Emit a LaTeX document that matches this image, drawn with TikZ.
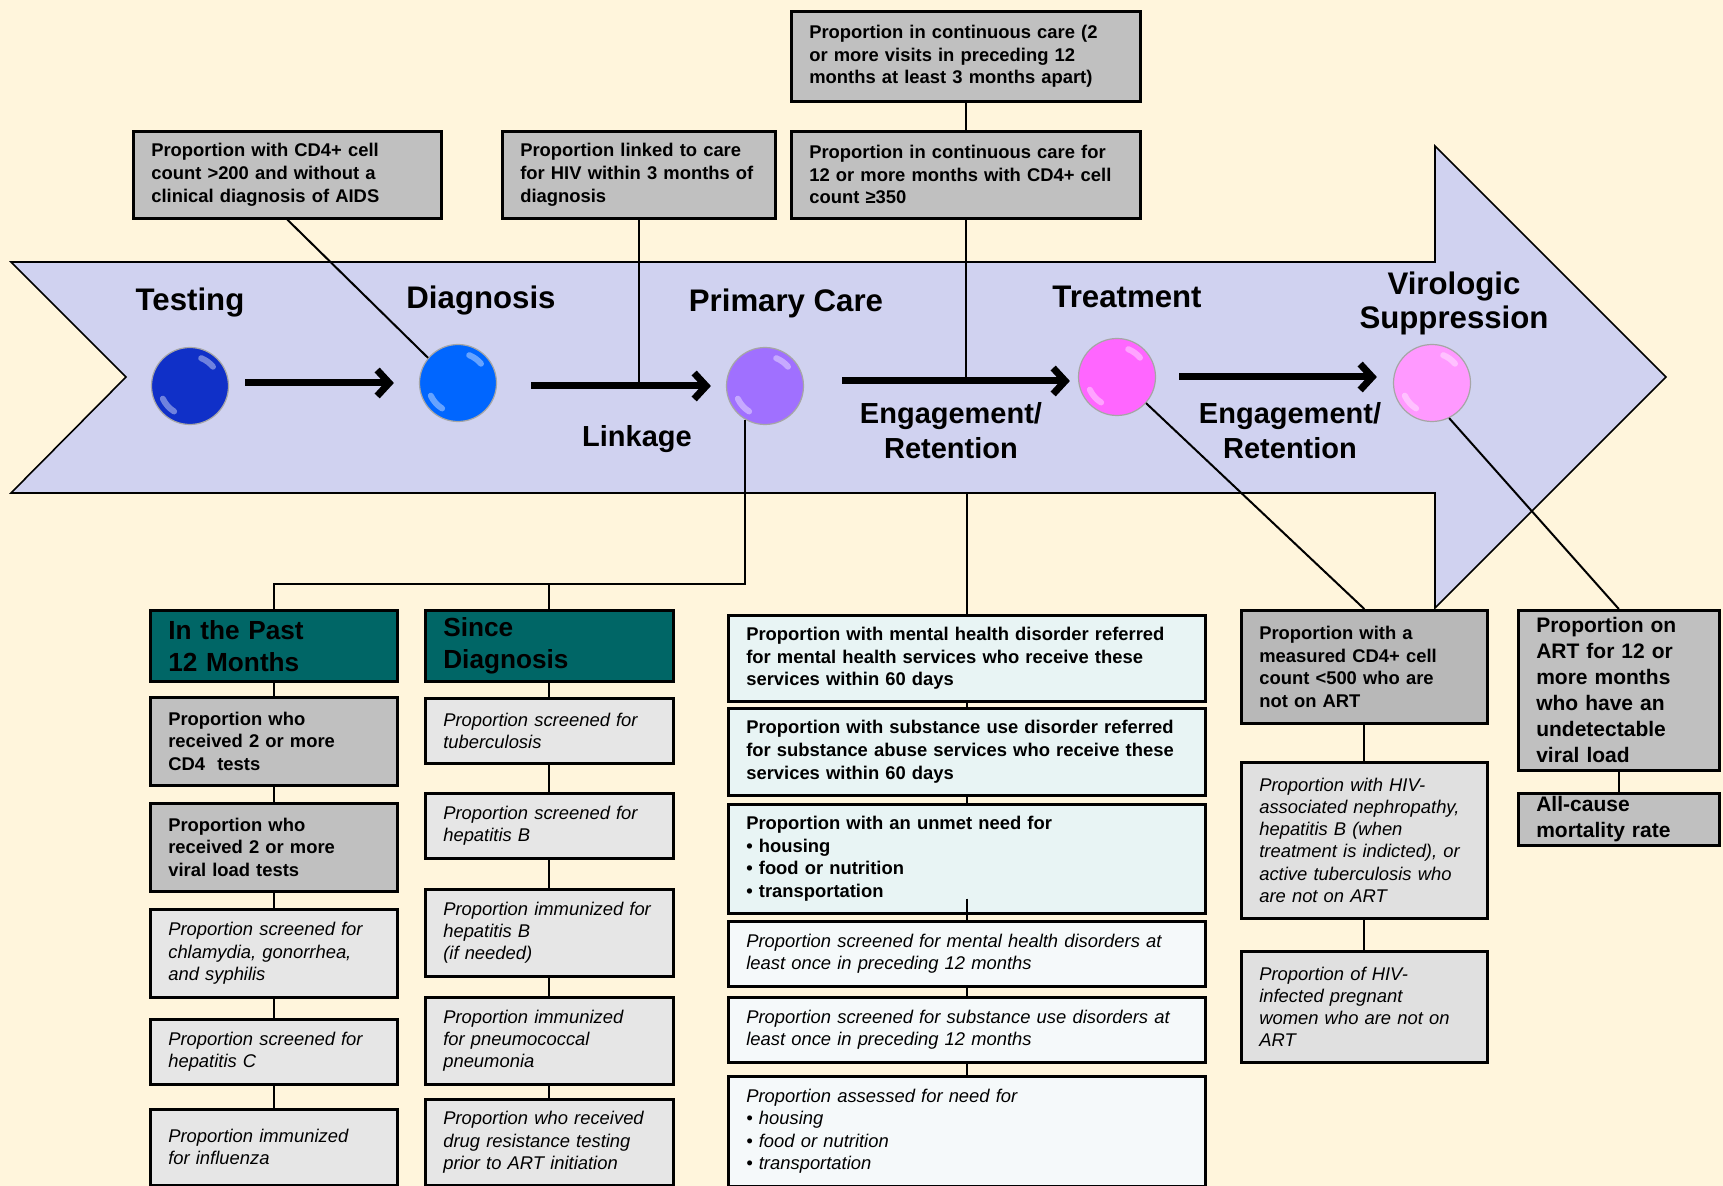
\documentclass[tikz,border=0pt]{standalone}
\usepackage{fontspec}
\setmainfont{Liberation Sans}
\usepackage{tikz}
\usetikzlibrary{arrows.meta}

\definecolor{bgcream}{HTML}{FFF5DC}
\definecolor{arrowfill}{HTML}{D0D2F0}
\definecolor{cgray}{HTML}{C0C0C0}
\definecolor{cgraydk}{HTML}{B8B8B8}
\definecolor{clight}{HTML}{E6E6E6}
\definecolor{clightb}{HTML}{E0E0E0}
\definecolor{hdrteal}{HTML}{006666}
\definecolor{mint}{HTML}{E8F4F4}
\definecolor{palecyan}{HTML}{F5F9FA}
\definecolor{ballA}{HTML}{1030C8}
\definecolor{ballB}{HTML}{0066FF}
\definecolor{ballC}{HTML}{A070FF}
\definecolor{ballD}{HTML}{FF66FF}
\definecolor{ballE}{HTML}{FF99FF}

\begin{document}
\begin{tikzpicture}[x=0.5pt, y=-0.5pt,
  cbox/.style={draw, line width=1.3pt, anchor=north west, align=left, inner xsep=9pt, inner ysep=1pt},
  gbox/.style={cbox, fill=cgray, font=\bfseries\fontsize{9.2}{11.3}\selectfont},
  ibox/.style={cbox, fill=clight, font=\itshape\fontsize{9.2}{11.1}\selectfont},
  hdr/.style={cbox, fill=hdrteal, font=\bfseries\fontsize{13.1}{16}\selectfont},
  mbox/.style={cbox, fill=mint, font=\bfseries\fontsize{9.2}{11.3}\selectfont},
  mibox/.style={cbox, fill=palecyan, font=\itshape\fontsize{9.2}{11.3}\selectfont},
  ball/.style={circle, draw=gray!70, line width=0.6pt, minimum size=38.5pt, inner sep=0pt},
  stage/.style={font=\bfseries\fontsize{15.6}{17}\selectfont, align=center},
  phase/.style={font=\bfseries\fontsize{14.5}{17.5}\selectfont, align=center},
  link/.style={line width=1pt},
  flow/.style={line width=3.5pt, -{Straight Barb[length=6pt, width=13pt]}},
  gloss/.style={white, opacity=0.4, line width=3pt, line cap=round}]
  \useasboundingbox (0,0) rectangle (1723,1186);
  \fill[bgcream] (0,0) rectangle (1723,1186);

  % the care continuum arrow
  \draw[fill=arrowfill, line width=0.8pt] (11,262) -- (1435,262) -- (1435,146) -- (1666,377)
    -- (1435,608) -- (1435,493) -- (11,493) -- (126,377) -- cycle;

  \node[ball, fill=ballA] (bTest) at (190,386) {};
  \node[ball, fill=ballB] (bDiag) at (458,383) {};
  \node[ball, fill=ballC] (bPrim) at (765,386) {};
  \node[ball, fill=ballD] (bTreat) at (1117,377) {};
  \node[ball, fill=ballE] (bViro) at (1432,383) {};
  \draw[gloss] (bTest.center) ++(40:15pt) arc[start angle=40, end angle=68, radius=15pt];
  \draw[gloss] (bTest.center) ++(205:15pt) arc[start angle=205, end angle=238, radius=15pt];
  \draw[gloss] (bDiag.center) ++(40:15pt) arc[start angle=40, end angle=68, radius=15pt];
  \draw[gloss] (bDiag.center) ++(205:15pt) arc[start angle=205, end angle=238, radius=15pt];
  \draw[gloss] (bPrim.center) ++(40:15pt) arc[start angle=40, end angle=68, radius=15pt];
  \draw[gloss] (bPrim.center) ++(205:15pt) arc[start angle=205, end angle=238, radius=15pt];
  \draw[gloss] (bTreat.center) ++(40:15pt) arc[start angle=40, end angle=68, radius=15pt];
  \draw[gloss] (bTreat.center) ++(205:15pt) arc[start angle=205, end angle=238, radius=15pt];
  \draw[gloss] (bViro.center) ++(40:15pt) arc[start angle=40, end angle=68, radius=15pt];
  \draw[gloss] (bViro.center) ++(205:15pt) arc[start angle=205, end angle=238, radius=15pt];

  \node[stage, anchor=base] (tTest) at (190,311) {Testing};
  \node[stage, anchor=base] (tDiag) at (481,309) {Diagnosis};
  \node[stage, anchor=base] (tPrim) at (786,312) {Primary Care};
  \node[stage, anchor=base] (tTreat) at (1127,308) {Treatment};
  \node[stage] (tViro) at (1454,303.5) {Virologic\\Suppression};
  \node[phase, anchor=base] (tLink) at (637,447) {Linkage};
  \node[phase] (tEng1) at (951,431) {Engagement/\\Retention};
  \node[phase] (tEng2) at (1290,431) {Engagement/\\Retention};

  % measures above the arrow
  \node[gbox, text width=136pt, minimum height=43.5pt] (boxA) at (132,130)
    {Proportion with CD4+ cell\\count >200 and without a\\clinical diagnosis of AIDS};
  \node[gbox, text width=118.5pt, minimum height=43.5pt] (boxB) at (501,130)
    {Proportion linked to care\\for HIV within 3 months of\\diagnosis};
  \node[gbox, text width=156.5pt, minimum height=45pt] (boxC) at (790,10)
    {Proportion in continuous care (2\\or more visits in preceding 12\\months at least 3 months apart)};
  \node[gbox, text width=156.5pt, minimum height=43.5pt] (boxD) at (790,130)
    {Proportion in continuous care for\\12 or more months with CD4+ cell\\count ≥350};

  % primary care measures
  \node[hdr, text width=105.5pt, minimum height=35.5pt] (hPast) at (149,609) {In the Past\\12 Months};
  \node[gbox, text width=105.5pt, minimum height=44pt] (l1) at (149,696)
    {Proportion who\\received 2 or more\\CD4\ \ tests};
  \node[gbox, text width=105.5pt, minimum height=44pt] (l2) at (149,802)
    {Proportion who\\received 2 or more\\viral load tests};
  \node[ibox, text width=105.5pt, minimum height=44pt] (l3) at (149,908)
    {Proportion screened for\\chlamydia, gonorrhea,\\and syphilis};
  \node[ibox, text width=105.5pt, minimum height=32.5pt] (l4) at (149,1018)
    {Proportion screened for\\hepatitis C};
  \node[ibox, text width=105.5pt, minimum height=38pt] (l5) at (149,1108)
    {Proportion immunized\\for influenza};

  \node[hdr, text width=106pt, minimum height=35.5pt] (hSince) at (424,609) {Since\\Diagnosis};
  \node[ibox, text width=106pt, minimum height=32.5pt] (s1) at (424,697)
    {Proportion screened for\\tuberculosis};
  \node[ibox, text width=106pt, minimum height=32.5pt] (s2) at (424,792)
    {Proportion screened for\\hepatitis B};
  \node[ibox, text width=106pt, minimum height=43.5pt] (s3) at (424,888)
    {Proportion immunized for\\hepatitis B\\(if needed)};
  \node[ibox, text width=106pt, minimum height=43.5pt] (s4) at (424,996)
    {Proportion immunized\\for pneumococcal\\pneumonia};
  \node[ibox, text width=106pt, minimum height=43pt] (s5) at (424,1098)
    {Proportion who received\\drug resistance testing\\prior to ART initiation};

  % engagement / retention measures
  \node[mbox, text width=220.5pt, minimum height=43pt] (m1) at (727,614)
    {Proportion with mental health disorder referred\\for mental health services who receive these\\services within 60 days};
  \node[mbox, text width=220.5pt, minimum height=43.5pt] (m2) at (727,707)
    {Proportion with substance use disorder referred\\for substance abuse services who receive these\\services within 60 days};
  \node[mbox, text width=220.5pt, minimum height=54.5pt] (m3) at (727,803)
    {Proportion with an unmet need for\\• housing\\• food or nutrition\\• transportation};
  \node[mibox, text width=220.5pt, minimum height=32.5pt] (m4) at (727,920)
    {Proportion screened for mental health disorders at\\least once in preceding 12 months};
  \node[mibox, text width=220.5pt, minimum height=32.5pt] (m5) at (727,996)
    {Proportion screened for substance use disorders at\\least once in preceding 12 months};
  \node[mibox, text width=220.5pt, minimum height=55pt] (m6) at (727,1075)
    {Proportion assessed for need for\\• housing\\• food or nutrition\\• transportation};

  % treatment and suppression measures
  \node[gbox, fill=cgraydk, text width=105pt, minimum height=56.5pt] (t1) at (1240,609)
    {Proportion with a\\measured CD4+ cell\\count <500 who are\\not on ART};
  \node[ibox, fill=clightb, text width=105pt, minimum height=78pt] (t2) at (1240,761)
    {Proportion with HIV-\\associated nephropathy,\\hepatitis B (when\\treatment is indicted), or\\active tuberculosis who\\are not on ART};
  \node[ibox, fill=clightb, text width=105pt, minimum height=55.5pt] (t3) at (1240,950)
    {Proportion of HIV-\\infected pregnant\\women who are not on\\ART};
  \node[gbox, font=\bfseries\fontsize{10.5}{13}\selectfont, text width=82.5pt, minimum height=80pt] (v1) at (1517,609)
    {Proportion on\\ART for 12 or\\more months\\who have an\\undetectable\\viral load};
  \node[gbox, font=\bfseries\fontsize{10.5}{13}\selectfont, text width=82.5pt, minimum height=26pt] (v2) at (1517,792)
    {All-cause\\mortality rate};

  \coordinate (shaftbot) at (966,493);
  \coordinate (jrow) at (0,584);

  \draw[link] (boxA.south) -- (bDiag.140);
  \draw[link] (boxB.south) -- (boxB.south |- bPrim);
  \draw[link] (boxC) -- (boxD);
  \draw[link] (boxD.south) -- ([yshift=-2pt]boxD.south |- bTreat);
  \draw[link] (bPrim.240) -- (bPrim.240 |- jrow) -| (hPast.north);
  \draw[link] (hSince.north) -- (hSince.north |- jrow);
  \draw[link] (hPast) -- (l1) (l1) -- (l2) (l2) -- (l3) (l3) -- (l4) (l4) -- (l5);
  \draw[link] (hSince) -- (s1) (s1) -- (s2) (s2) -- (s3) (s3) -- (s4) (s4) -- (s5);
  \draw[link] (m1.north |- shaftbot) -- (m1.north);
  \draw[link] (m1) -- (m2) (m2) -- (m3) (m4) -- (m5) (m5) -- (m6);
  \draw[link] ([yshift=8pt]m3.south) -- (m4.north);
  \draw[link] (bTreat.318) -- (t1.north);
  \draw[link] (t1) -- (t2) (t2) -- (t3);
  \draw[link] (bViro.296) -- (v1.north);
  \draw[link] (v1) -- (v2);

  \draw[flow, shorten <=8pt, shorten >=12.5pt] (bDiag.west -| bTest.east) -- (bDiag.west);
  \draw[flow, shorten <=17pt, shorten >=7.5pt] (bPrim.west -| bDiag.east) -- (bPrim.west);
  \draw[flow, shorten <=19pt, shorten >=4pt] ([yshift=2.5pt]bPrim.east) -- ([yshift=2.5pt]bPrim.east -| bTreat.west);
  \draw[flow, shorten <=11.5pt, shorten >=8pt] (bTreat.east) -- (bTreat.east -| bViro.west);
\end{tikzpicture}
\end{document}
